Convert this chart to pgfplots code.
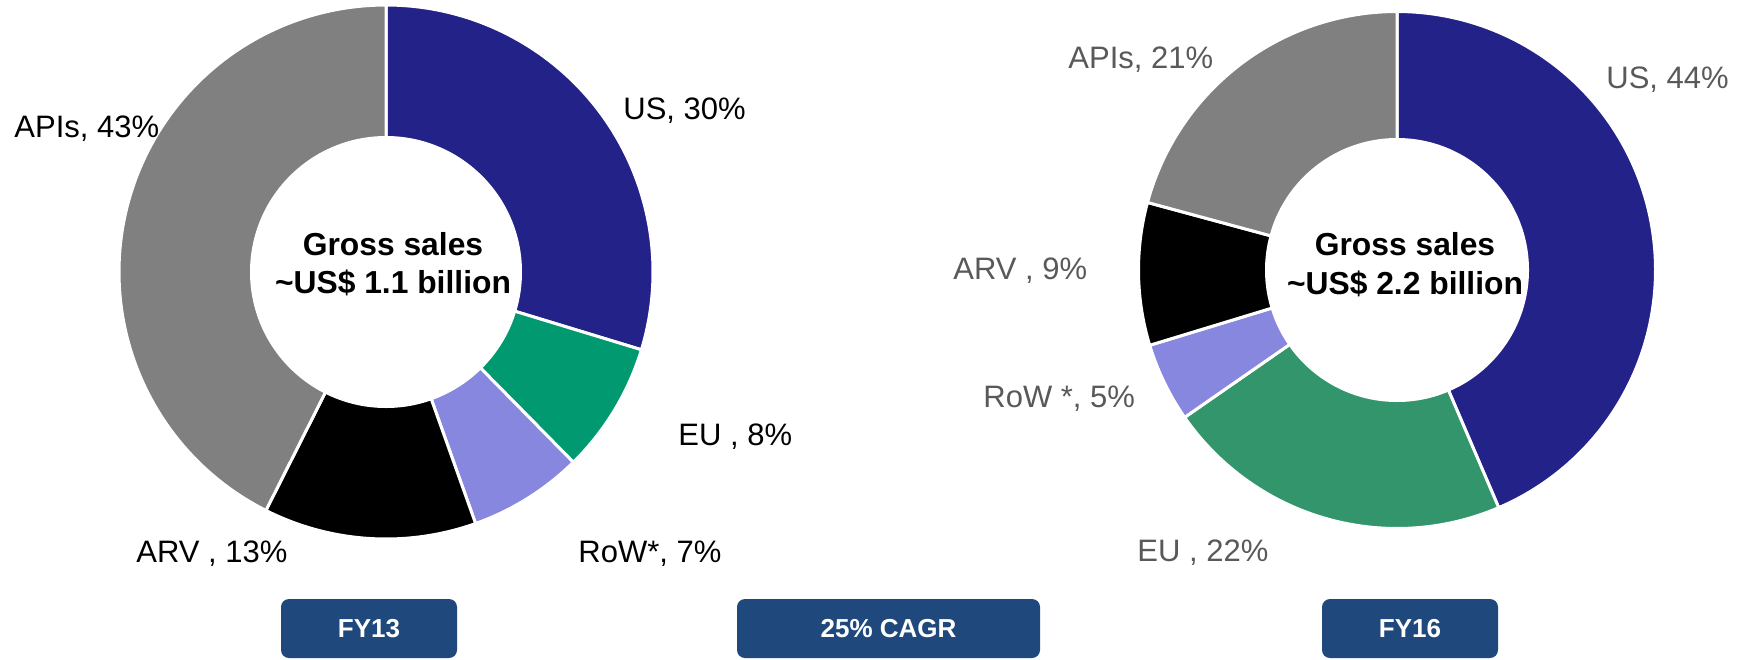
\documentclass[border=0pt]{standalone}
\usepackage{pgfplots}
\pgfplotsset{compat=1.18}
\usepackage{fontspec}
\setmainfont{Liberation Sans}
\definecolor{cUS}{RGB}{34,34,136}
\definecolor{cEUa}{RGB}{0,153,112}
\definecolor{cEUb}{RGB}{51,149,108}
\definecolor{cRoW}{RGB}{135,135,224}
\definecolor{cARV}{RGB}{0,0,0}
\definecolor{cAPI}{RGB}{128,128,128}
\definecolor{cBox}{RGB}{31,73,125}
\definecolor{cLab}{RGB}{89,89,89}
% one donut slice: #1 = share before it, #2 = its share, #3 = total, #4 = colour
\newcommand{\slice}[4]{%
  \addplot[fill=#4, draw=white, line width=1.5pt, line join=round,
    domain=90-360*(#1+#2)/#3:90-360*(#1)/#3, samples=120, variable=\t]
    ({cos(\t)},{sin(\t)}) -- (axis cs:0,0) -- cycle;
}
\tikzset{lab/.style={anchor=base west, inner sep=0pt, font=\fontsize{15.5pt}{18pt}\selectfont},
  ctr/.style={anchor=base, inner sep=0pt, font=\fontsize{15.9pt}{19pt}\selectfont\bfseries},
  box/.style={fill=cBox, rounded corners=4pt},
  boxt/.style={anchor=center, inner sep=0pt, text=white, font=\fontsize{13pt}{15pt}\selectfont\bfseries}}
\begin{document}
\begin{tikzpicture}[x=0.5pt,y=-0.5pt]
\useasboundingbox (0,0) rectangle (1739,659);
% FY13
\begin{axis}[at={(193pt,-136pt)}, anchor=center, scale only axis, width=267pt, height=267pt,
  xmin=-1, xmax=1, ymin=-1, ymax=1, hide axis, clip=false]
\slice{0}{30}{101}{cUS}
\slice{30}{8}{101}{cEUa}
\slice{38}{7}{101}{cRoW}
\slice{45}{13}{101}{cARV}
\slice{58}{43}{101}{cAPI}
\fill[white] (axis cs:0,0) circle[radius=68pt];
\end{axis}
% FY16
\begin{axis}[at={(698.5pt,-135pt)}, anchor=center, scale only axis, width=258.5pt, height=258.5pt,
  xmin=-1, xmax=1, ymin=-1, ymax=1, hide axis, clip=false]
\slice{0}{44}{101}{cUS}
\slice{44}{22}{101}{cEUb}
\slice{66}{5}{101}{cRoW}
\slice{71}{9}{101}{cARV}
\slice{80}{21}{101}{cAPI}
\fill[white] (axis cs:0,0) circle[radius=66pt];
\end{axis}
% centre texts
\node[ctr] at (393,255) {Gross sales};
\node[ctr] at (393,293) {\textasciitilde US\$ 1.1 billion};
\node[ctr] at (1405,255) {Gross sales};
\node[ctr] at (1405,294) {\textasciitilde US\$ 2.2 billion};
% labels FY13
\node[lab] at (623,119) {US, 30\%};
\node[lab] at (678,445) {EU , 8\%};
\node[lab] at (578,562) {RoW*, 7\%};
\node[lab] at (136,562) {ARV , 13\%};
\node[lab] at (14,137) {APIs, 43\%};
% labels FY16
\node[lab, text=cLab] at (1068,68) {APIs, 21\%};
\node[lab, text=cLab] at (1606,88) {US, 44\%};
\node[lab, text=cLab] at (953,279) {ARV , 9\%};
\node[lab, text=cLab] at (983,407) {RoW *, 5\%};
\node[lab, text=cLab] at (1137,561) {EU , 22\%};
% boxes
\fill[box] (281,599) rectangle (457,658);
\fill[box] (737,599) rectangle (1040,658);
\fill[box] (1322,599) rectangle (1498,658);
\node[boxt] at (369,629) {FY13};
\node[boxt] at (888.5,629) {25\% CAGR};
\node[boxt] at (1410,629) {FY16};
\end{tikzpicture}
\end{document}
